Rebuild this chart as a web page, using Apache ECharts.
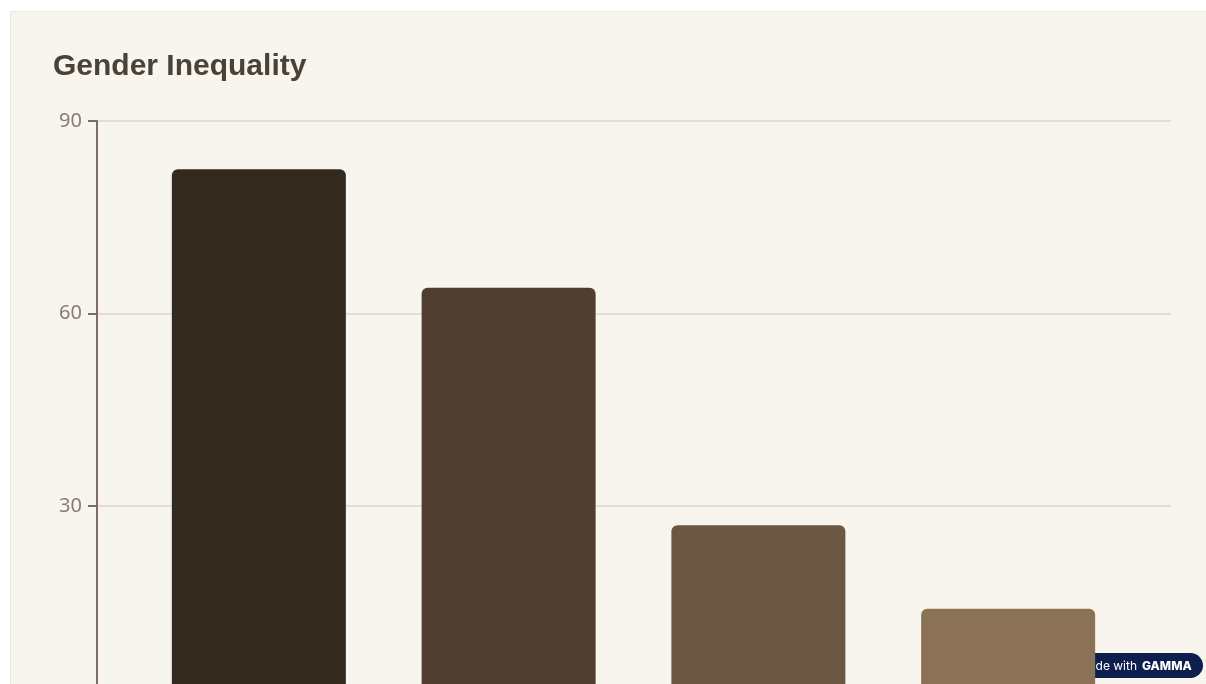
<!DOCTYPE html>
<html>
<head>
<meta charset="utf-8">
<script src="https://cdn.jsdelivr.net/npm/echarts@6/dist/echarts.min.js"></script>
<style>
html,body{margin:0;padding:0;background:#ffffff;width:1206px;height:684px;overflow:hidden;}
#panel{position:absolute;left:10px;top:11px;width:1200px;height:720px;background:#f8f5ef;border:1px solid #ece8e0;box-sizing:border-box;}
#chart{position:absolute;left:0;top:0;width:1206px;height:720px;}
</style>
</head>
<body>
<div id="panel"></div>
<div id="chart"></div>
<script>
const title = 'Gender Inequality';
const positions = [0, 1, 2, 3];
const values = [82.5, 64, 27, 14];
const barColors = ['#322a1f', '#503f30', '#6c5842', '#8b7155'];
const yTicks = [0, 30, 60, 90];

const chart = echarts.init(document.getElementById('chart'), null, {renderer: 'canvas'});
chart.setOption({
  backgroundColor: 'transparent',
  animation: false,
  title: {
    text: title, left: 48, top: 47,
    textStyle: {fontFamily: 'Liberation Sans, Arial, sans-serif', fontWeight: 'bold', fontSize: 30, color: '#4a4237'}
  },
  grid: {left: 97, width: 1074, top: 121, bottom: 21.5, outerBoundsMode: 'none'},
  xAxis: {type: 'value', min: -0.648, max: 3.652, show: false},
  yAxis: {
    type: 'value', min: yTicks[0], max: yTicks[yTicks.length - 1], interval: 30,
    axisLine: {show: true, onZero: false, lineStyle: {color: '#7e6d63', width: 2}},
    axisTick: {show: true, length: 9, lineStyle: {color: '#7e6d63', width: 2}},
    axisLabel: {fontFamily: 'Noto Sans, sans-serif', fontSize: 20, color: '#8a7c73', margin: 15,
      formatter: v => v === 0 ? '' : String(v)},
    splitLine: {show: true, lineStyle: {color: '#e2ddd5', width: 2}}
  },
  series: [{
    type: 'bar',
    barWidth: 174,
    z: 5,
    data: positions.map((p, i) => ({value: [p, values[i]], itemStyle: {color: barColors[i], borderRadius: [6, 6, 0, 0]}}))
  }],
  graphic: [{
    type: 'group', z: 0, zlevel: 0,
    children: [
      {type: 'rect', shape: {x: 1060, y: 653, width: 143, height: 25, r: 12.5}, style: {fill: '#0c1f4d'}, z: 0},
      {type: 'text', style: {x: 1137, y: 666, text: 'Made with', fill: '#ffffff', font: '12px Inter, sans-serif', verticalAlign: 'middle', align: 'right'}, z: 1},
      {type: 'text', style: {x: 1142, y: 666, text: 'GAMMA', fill: '#ffffff', font: '800 12px Inter, sans-serif', verticalAlign: 'middle'}, z: 1}
    ]
  }]
});
</script>
</body>
</html>
